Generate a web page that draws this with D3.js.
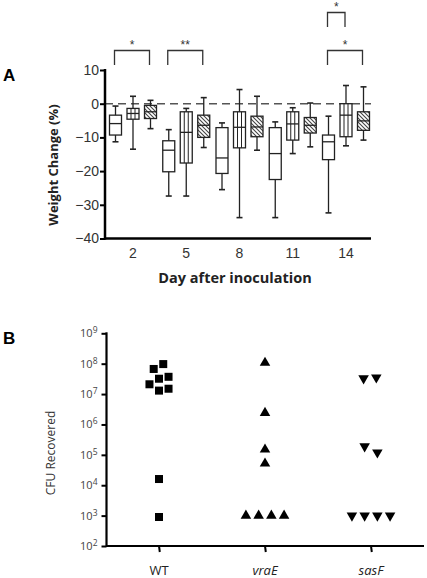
<!DOCTYPE html>
<html><head><meta charset="utf-8">
<script src="https://cdn.jsdelivr.net/npm/d3@7"></script>
<style>body{margin:0;background:#fff}svg{display:block}</style>
</head><body>
<svg id="c" width="427" height="578"></svg>
<script>
// ---------- Panel A data ----------
const days = [2, 5, 8, 11, 14];
const yTicksA = [10, 0, -10, -20, -30, -40];
// each box: [whiskerLow, q1, median, q3, whiskerHigh]
const groupPlain = [
  [-11.3, -9.3, -5.9, -3.4, -0.7],
  [-27.4, -20.2, -13.8, -11.0, -7.7],
  [-25.5, -20.7, -16.1, -7.1, -5.7],
  [-33.8, -22.5, -14.8, -7.1, -5.4],
  [-32.4, -16.6, -11.3, -9.3, -3.7]
];
const groupStriped = [
  [-13.5, -4.6, -2.9, -1.4, 2.2],
  [-27.4, -17.6, -8.5, -2.4, -1.4],
  [-33.8, -13.1, -7.0, -2.4, 4.2],
  [-14.8, -10.8, -6.0, -2.4, -1.2],
  [-12.5, -9.8, -3.4, 0.0, 5.4]
];
const groupHatched = [
  [-7.4, -4.4, -2.4, -0.5, 1.0],
  [-13.0, -10.0, -6.4, -3.4, 1.8],
  [-13.8, -9.8, -6.9, -3.7, 2.2],
  [-12.8, -8.7, -6.4, -4.1, 0.2],
  [-10.8, -7.9, -5.1, -2.4, 5.0]
];
// significance: [day, fromSeries, toSeries, level, label]
const sigMarks = [
  [2, 0, 2, 0, "*"],
  [5, 0, 2, 0, "**"],
  [14, 0, 1, 1, "*"],
  [14, 0, 2, 0, "*"]
];

// ---------- Panel B data ----------
const strains = ["WT", "vraE", "sasF"];
const yTicksB = [2, 3, 4, 5, 6, 7, 8, 9];
const cfuWT = [6.7e7, 9.7e7, 3.2e7, 3.7e7, 2.1e7, 1.3e7, 1.5e7, 1.6e4, 900];
const jitWT = [-0.05, 0.04, 0.0, 0.09, -0.09, 0.0, 0.09, 0.0, 0.0];
const cfuVraE = [1.07e8, 2.4e6, 1.5e5, 5.2e4, 1000, 1000, 1000, 1000];
const jitVraE = [0, 0, 0, 0, -0.18, -0.06, 0.06, 0.18];
const cfuSasF = [3.3e7, 3.5e7, 1.9e5, 1.2e5, 1000, 1000, 1000, 1000];
const jitSasF = [-0.07, 0.05, -0.06, 0.06, -0.18, -0.06, 0.06, 0.18];

const svg = d3.select("#c");
const defs = svg.append("defs");
const pat = defs.append("pattern").attr("id", "hatch").attr("patternUnits", "userSpaceOnUse")
  .attr("width", 4).attr("height", 4);
pat.append("rect").attr("width", 4).attr("height", 4).attr("fill", "#fff");
pat.append("path").attr("d", "M-1,-1 L5,5 M-1,3 L1,5 M3,-1 L5,1")
  .attr("stroke", "#444").attr("stroke-width", 1.1);

// ---------- Panel A ----------
const xA = d3.scaleLinear().domain([2, 14]).range([133, 346]);
const yA = d3.scaleLinear().domain([-40, 10]).range([238.5, 70]);
const axL = 105, axR = 371;
const gA = svg.append("g");

// zero dashed line
gA.append("line").attr("x1", axL).attr("x2", axR).attr("y1", yA(0)).attr("y2", yA(0))
  .attr("stroke", "#555").attr("stroke-width", 1.6).attr("stroke-dasharray", "8,5");

const yAxisA = d3.axisLeft(yA).tickValues(yTicksA).tickSize(5).tickPadding(1);
const ya = gA.append("g").attr("transform", `translate(${axL},0)`).call(yAxisA);
ya.select(".domain").remove();
ya.selectAll(".tick line").attr("stroke", "#000").attr("stroke-width", 2);
ya.selectAll(".tick text").attr("font-family", "Liberation Sans, Arial, sans-serif")
  .attr("font-size", 14).attr("fill", "#333");
gA.append("line").attr("x1", axL).attr("x2", axL).attr("y1", yA(10) - 1).attr("y2", yA(-40) + 1.2)
  .attr("stroke", "#000").attr("stroke-width", 2.5);
gA.append("line").attr("x1", axL).attr("x2", axR).attr("y1", yA(-40)).attr("y2", yA(-40))
  .attr("stroke", "#000").attr("stroke-width", 2.5);

gA.selectAll(".dl").data(days).join("text")
  .attr("x", d => xA(d)).attr("y", 258).attr("text-anchor", "middle")
  .attr("font-family", "Liberation Sans, Arial, sans-serif").attr("font-size", 14).attr("fill", "#333")
  .text(d => d);

gA.append("text").attr("x", 235).attr("y", 283).attr("text-anchor", "middle")
  .attr("font-family", "Open Sans, sans-serif").attr("font-weight", "bold").attr("font-size", 14.5)
  .attr("fill", "#222").text("Day after inoculation");
gA.append("text").attr("transform", `translate(58,165) rotate(-90)`).attr("text-anchor", "middle")
  .attr("font-family", "Open Sans, sans-serif").attr("font-weight", "bold").attr("font-size", 13)
  .attr("fill", "#222").text("Weight Change (%)");
svg.append("text").attr("x", 3).attr("y", 81).attr("font-family", "Liberation Sans, Arial, sans-serif")
  .attr("font-weight", "bold").attr("font-size", 17).text("A");

const offs = [-17.5, 0, 17.5];
const bw = 12, capW = 6;
const series = [groupPlain, groupStriped, groupHatched];
series.forEach((ser, si) => {
  ser.forEach((b, di) => {
    const cx = xA(days[di]) + offs[si];
    const g = gA.append("g");
    const st = "#222", sw = 1.3;
    g.append("line").attr("x1", cx).attr("x2", cx).attr("y1", yA(b[0])).attr("y2", yA(b[4]))
      .attr("stroke", st).attr("stroke-width", sw);
    [b[0], b[4]].forEach(v => g.append("line").attr("x1", cx - capW / 2).attr("x2", cx + capW / 2)
      .attr("y1", yA(v)).attr("y2", yA(v)).attr("stroke", st).attr("stroke-width", 1.6));
    g.append("rect").attr("x", cx - bw / 2).attr("y", yA(b[3])).attr("width", bw)
      .attr("height", yA(b[1]) - yA(b[3]))
      .attr("fill", si === 2 ? "url(#hatch)" : "#fff").attr("stroke", st).attr("stroke-width", sw);
    if (si === 1) {
      [-2, 2].forEach(o => g.append("line").attr("x1", cx + o).attr("x2", cx + o)
        .attr("y1", yA(b[3])).attr("y2", yA(b[1])).attr("stroke", st).attr("stroke-width", 1));
    }
    g.append("line").attr("x1", cx - bw / 2).attr("x2", cx + bw / 2).attr("y1", yA(b[2])).attr("y2", yA(b[2]))
      .attr("stroke", st).attr("stroke-width", sw);
  });
});

// significance brackets
sigMarks.forEach(([d, a, b, lvl, lab]) => {
  const x1 = xA(d) + offs[a] - 1, x2 = xA(d) + offs[b] - 1;
  const top = lvl === 0 ? 50.5 : 12.5, bot = top + 14.5;
  gA.append("path").attr("d", `M${x1},${bot} V${top} H${x2} V${bot}`)
    .attr("fill", "none").attr("stroke", "#333").attr("stroke-width", 1.3);
  gA.append("text").attr("x", (x1 + x2) / 2).attr("y", top - 2).attr("text-anchor", "middle")
    .attr("font-family", "Liberation Sans, Arial, sans-serif").attr("font-size", 12).attr("fill", "#333")
    .text(lab);
});

// ---------- Panel B ----------
const xB = d3.scalePoint().domain(strains).range([106, 424]).padding(0.5);
const yB = d3.scaleLog().domain([1e2, 1e9]).range([546, 333.3]);
const gB = svg.append("g");
const bL = 106.5, bR = 424;
gB.append("line").attr("x1", bL).attr("x2", bL).attr("y1", yB(1e9) - 1).attr("y2", yB(1e2) + 1)
  .attr("stroke", "#000").attr("stroke-width", 2.2);
gB.append("line").attr("x1", bL).attr("x2", bR).attr("y1", yB(1e2)).attr("y2", yB(1e2))
  .attr("stroke", "#000").attr("stroke-width", 2);
const yAxisB = d3.axisLeft(yB).tickValues(yTicksB.map(e => Math.pow(10, e))).tickSize(5).tickFormat("");
const yb = gB.append("g").attr("transform", `translate(${bL},0)`).call(yAxisB);
yb.select(".domain").remove();
yb.selectAll(".tick line").attr("stroke", "#000").attr("stroke-width", 2);
yTicksB.forEach(e => {
  const t = gB.append("text").attr("x", bL - 9).attr("y", yB(Math.pow(10, e)) + 4).attr("text-anchor", "end")
    .attr("font-family", "Open Sans, sans-serif").attr("font-size", 11).attr("fill", "#444");
  t.append("tspan").text("10");
  t.append("tspan").attr("dy", -4).attr("font-size", 8.5).text(e);
});
strains.forEach(s => {
  gB.append("line").attr("x1", xB(s)).attr("x2", xB(s) + 0.8).attr("y1", yB(1e2)).attr("y2", yB(1e2) + 6)
    .attr("stroke", "#000").attr("stroke-width", 2);
  gB.append("text").attr("x", xB(s)).attr("y", 575).attr("text-anchor", "middle")
    .attr("font-family", "Open Sans, sans-serif").attr("font-size", 13).attr("fill", "#222")
    .attr("font-style", s === "WT" ? "normal" : "italic").text(s);
});
gB.append("text").attr("transform", `translate(55,453) rotate(-90)`).attr("text-anchor", "middle")
  .attr("font-family", "Open Sans, sans-serif").attr("font-size", 12).attr("fill", "#333").text("CFU Recovered");
svg.append("text").attr("x", 3).attr("y", 344).attr("font-family", "Liberation Sans, Arial, sans-serif")
  .attr("font-weight", "bold").attr("font-size", 17).text("B");

const step = xB.step();
const sq = 8;
gB.selectAll(".wt").data(cfuWT).join("rect")
  .attr("x", (d, i) => xB("WT") + jitWT[i] * step - sq / 2).attr("y", d => yB(d) - sq / 2)
  .attr("width", sq).attr("height", sq).attr("fill", "#000");
const tri = d3.symbol().type(d3.symbolTriangle).size(48);
gB.selectAll(".vr").data(cfuVraE).join("path")
  .attr("d", tri).attr("fill", "#000")
  .attr("transform", (d, i) => `translate(${xB("vraE") + jitVraE[i] * step},${yB(d)})`);
gB.selectAll(".sf").data(cfuSasF).join("path")
  .attr("d", tri).attr("fill", "#000")
  .attr("transform", (d, i) => `translate(${xB("sasF") + jitSasF[i] * step},${yB(d)}) rotate(180)`);
</script>
</body></html>
